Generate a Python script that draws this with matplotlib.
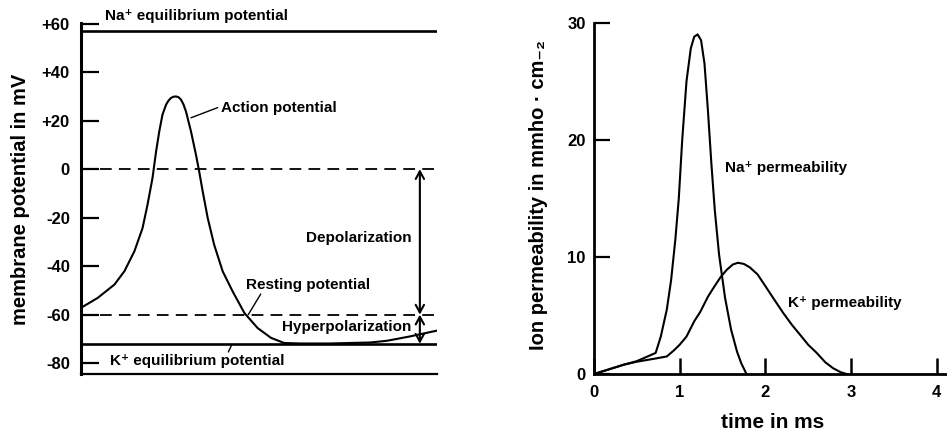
import matplotlib
matplotlib.use('Agg')
import matplotlib.pyplot as plt

plt.rcParams['font.family'] = ['Liberation Sans', 'DejaVu Sans']
plt.rcParams['font.weight'] = 'bold'

# ---------------- Left panel data (membrane potential, mV) ----------------
ap_time = [0.00, 0.47, 0.94, 1.22, 1.50, 1.73, 1.87, 2.01, 2.11, 2.20, 2.29,
           2.39, 2.46, 2.53, 2.60, 2.67, 2.74, 2.81, 2.88, 2.95, 3.09, 3.23, 3.32,
           3.42, 3.56, 3.74, 3.98, 4.26, 4.59, 4.96, 5.34, 5.71, 6.15, 6.99, 8.12,
           8.59, 9.24, 10.0]
ap_mv = [-57.2, -53.1, -47.6, -42.1, -33.9, -24.3, -14.6, -3.6, 7.3, 15.6, 22.5,
         26.6, 28.3, 29.4, 29.9, 30.0, 29.7, 28.7, 26.7, 23.8, 15.6, 6.0, -0.9,
         -9.2, -20.1, -31.1, -42.1, -50.4, -59.3, -65.5, -69.6, -71.7, -71.9, -71.9, -71.5,
         -70.8, -69.0, -66.6]
na_eq = 57
k_eq = -72
rest_mv = -60
zero_mv = 0
left_yticks = [60, 40, 20, 0, -20, -40, -60, -80]
left_yticklabels = ['+60', '+40', '+20', '0', '-20', '-40', '-60', '-80']

# ---------------- Right panel data (ion permeability) ----------------
na_t = [0.0, 0.35, 0.5, 0.72, 0.78, 0.85, 0.90, 0.95, 0.99, 1.03, 1.08, 1.13,
        1.17, 1.21, 1.25, 1.29, 1.33, 1.37, 1.41, 1.46, 1.53, 1.60, 1.67, 1.72, 1.78]
na_g = [0.0, 0.8, 1.1, 1.8, 3.2, 5.5, 8.0, 11.5, 15.0, 20.0, 25.0, 27.8,
        28.8, 29.0, 28.5, 26.5, 22.5, 18.0, 14.0, 10.2, 6.5, 3.8, 1.9, 0.9, 0.0]
k_t = [0.0, 0.35, 0.5, 0.7, 0.85, 0.93, 1.0, 1.08, 1.17, 1.24, 1.33, 1.39, 1.48,
       1.55, 1.62, 1.68, 1.75, 1.82, 1.91, 2.01, 2.10, 2.21, 2.31, 2.40, 2.50,
       2.60, 2.70, 2.79, 2.88, 2.95]
k_g = [0.0, 0.8, 1.05, 1.3, 1.5, 2.0, 2.5, 3.2, 4.5, 5.3, 6.6, 7.3, 8.3,
       8.9, 9.35, 9.5, 9.4, 9.1, 8.5, 7.4, 6.4, 5.2, 4.2, 3.4, 2.5,
       1.8, 1.0, 0.5, 0.15, 0.0]
right_yticks = [0, 10, 20, 30]
right_xticks = [0, 1, 2, 3, 4]

fig = plt.figure(figsize=(9.47, 4.34), dpi=100)

# ---------------- Left axes ----------------
ax1 = fig.add_axes([0.0855, 0.1382, 0.3759, 0.8099])
ax1.set_xlim(0, 10)
ax1.set_ylim(-84.5, 60.5)
for s in ['top', 'right']:
    ax1.spines[s].set_visible(False)
ax1.spines['left'].set_linewidth(2.2)
ax1.spines['bottom'].set_linewidth(1.6)
ax1.set_xticks([])
ax1.set_yticks(left_yticks, left_yticklabels)
ax1.tick_params(axis='y', direction='in', length=13, width=1.6, pad=8, labelsize=12)

ax1.axhline(na_eq, color='k', lw=1.9)
ax1.axhline(k_eq, color='k', lw=1.9)
dash = (0, (6.5, 4.0))
ax1.axhline(zero_mv, color='k', lw=1.3, linestyle=dash)
ax1.axhline(rest_mv, color='k', lw=1.3, linestyle=dash)
ax1.plot(ap_time, ap_mv, color='k', lw=1.5)

arrow_style = '<->,head_length=0.55,head_width=0.3'
ax1.annotate('', xy=(9.52, zero_mv), xytext=(9.52, rest_mv),
             arrowprops=dict(arrowstyle=arrow_style, lw=1.5, color='k',
                             shrinkA=0, shrinkB=0))
ax1.annotate('', xy=(9.52, rest_mv), xytext=(9.52, k_eq),
             arrowprops=dict(arrowstyle=arrow_style, lw=1.5, color='k',
                             shrinkA=0, shrinkB=0))

fs = 11
leader = dict(arrowstyle='-', lw=1.0, color='k', shrinkA=0, shrinkB=0)
ax1.text(0.67, 63.3, 'Na⁺ equilibrium potential', fontsize=fs, fontweight='bold',
         ha='left', va='center', clip_on=False)

ax1.text(3.93, 25.4, 'Action potential', fontsize=fs, fontweight='bold',
         ha='left', va='center')
ax1.annotate('', xy=(3.09, 21.2), xytext=(3.84, 25.4), arrowprops=leader)

ax1.text(9.30, -28.2, 'Depolarization', fontsize=fs, fontweight='bold',
         ha='right', va='center')

ax1.text(4.63, -47.6, 'Resting potential', fontsize=fs, fontweight='bold',
         ha='left', va='center')
ax1.annotate('', xy=(4.70, rest_mv), xytext=(5.05, -51.5), arrowprops=leader)

ax1.text(9.27, -64.9, 'Hyperpolarization', fontsize=fs, fontweight='bold',
         ha='right', va='center')

ax1.text(0.81, -79.0, 'K⁺ equilibrium potential', fontsize=fs, fontweight='bold',
         ha='left', va='center')
ax1.annotate('', xy=(4.23, -72.6), xytext=(4.14, -75.4), arrowprops=leader)

fig.text(21 / 947, 1 - 199 / 434, 'membrane potential in mV', rotation=90,
         ha='center', va='center', fontsize=14.5, fontweight='bold')

# ---------------- Right axes ----------------
ax2 = fig.add_axes([0.6272, 0.1382, 0.3728, 0.8095])
ax2.set_xlim(0, 4.12)
ax2.set_ylim(0, 30)
for s in ['top', 'right']:
    ax2.spines[s].set_visible(False)
ax2.spines['left'].set_linewidth(2.0)
ax2.spines['bottom'].set_linewidth(2.0)
ax2.set_yticks(right_yticks)
ax2.set_xticks(right_xticks)
ax2.tick_params(axis='y', direction='in', length=11.5, width=1.6, pad=6, labelsize=12)
ax2.tick_params(axis='x', direction='in', length=11.5, width=1.8, pad=8, labelsize=12)

ax2.plot(na_t, na_g, color='k', lw=1.5)
ax2.plot(k_t, k_g, color='k', lw=1.5)

ax2.text(1.53, 17.6, 'Na⁺ permeability', fontsize=fs, fontweight='bold',
         ha='left', va='center')
ax2.text(2.27, 6.1, 'K⁺ permeability', fontsize=fs, fontweight='bold',
         ha='left', va='center')

fig.text(538 / 947, 1 - 195 / 434, 'Ion permeability in mmho · cm₋₂', rotation=90,
         ha='center', va='center', fontsize=14.5, fontweight='bold')
fig.text(773 / 947, 1 - 422 / 434, 'time in ms', ha='center', va='center',
         fontsize=15, fontweight='bold')

fig.savefig('out.png', dpi=100)
